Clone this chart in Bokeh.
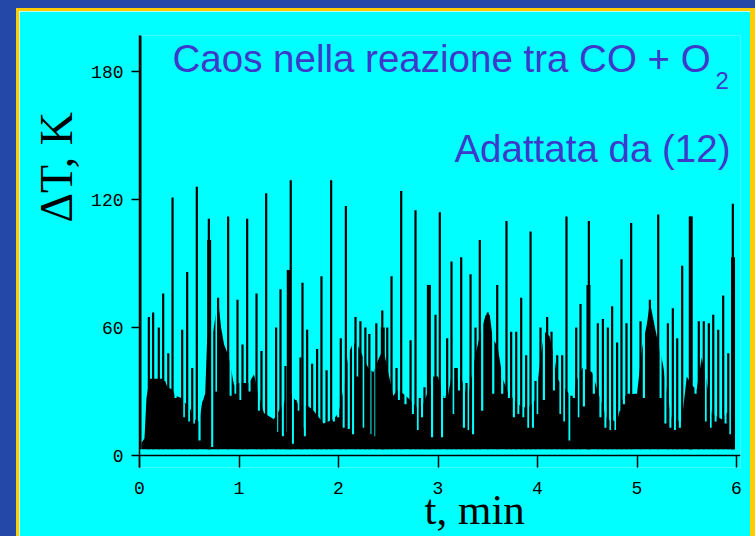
from bokeh.plotting import figure
from bokeh.models import Range1d, FixedTicker, Span, Label, Title, Spacer
from bokeh.layouts import row, column
from bokeh.embed import file_html
from bokeh.resources import INLINE

# ---- data (t in min, delta T in K) ----
env_t = [0.02, 0.05, 0.07, 0.10, 0.25, 0.28, 0.33, 0.36, 0.42, 0.45, 0.50, 0.55, 0.60, 0.63, 0.66,
         0.68, 0.74, 0.79, 0.82, 0.85, 0.90, 0.95, 1.00, 1.10, 1.15, 1.20, 1.25, 1.35, 1.40, 1.45,
         1.50, 1.55, 1.60, 1.70, 1.75, 1.85, 1.95, 2.00, 2.05, 2.10, 2.15, 2.20, 2.25, 2.30, 2.35,
         2.40, 2.45, 2.50, 2.55, 2.60, 2.70, 2.80, 2.85, 2.90, 2.95, 3.00, 3.05, 3.10, 3.15, 3.20,
         3.25, 3.30, 3.37, 3.42, 3.48, 3.52, 3.55, 3.60, 3.65, 3.70, 3.80, 3.90, 3.98, 4.03, 4.07,
         4.12, 4.17, 4.20, 4.30, 4.35, 4.40, 4.45, 4.55, 4.60, 4.70, 4.80, 4.85, 4.90, 5.00, 5.05,
         5.10, 5.13, 5.18, 5.22, 5.26, 5.30, 5.35, 5.45, 5.50, 5.55, 5.60, 5.65, 5.70, 5.75, 5.85,
         5.90, 5.98]
env_v = [6, 8, 27, 36, 36, 32, 31, 28, 27, 25, 23, 17, 16, 25, 29,
         55, 58, 73, 60, 52, 46, 33, 34, 34, 38, 28, 20, 17, 21, 24,
         32, 27, 24, 23, 21, 15, 17, 20, 31, 48, 53, 51, 46, 41, 39,
         45, 50, 39, 28, 31, 27, 22, 24, 30, 37, 37, 28, 28, 41, 41,
         34, 27, 46, 56, 66, 66, 55, 51, 36, 30, 24, 22, 26, 46, 58,
         56, 46, 36, 30, 27, 36, 41, 39, 31, 17, 16, 26, 29, 29, 50,
         62, 72, 60, 51, 43, 30, 17, 16, 37, 33, 31, 46, 35, 20, 17,
         20, 22]
base_v = 3

spike_t = [0.094, 0.137, 0.194, 0.238, 0.289, 0.332, 0.429, 0.479, 0.530, 0.576, 0.697, 0.790,
           0.891, 0.985, 1.035, 1.082, 1.176, 1.226, 1.273, 1.373, 1.417, 1.467, 1.520, 1.568,
           1.618, 1.638, 1.685, 1.735, 1.785, 1.829, 1.880, 1.926, 2.023, 2.074, 2.171, 2.220,
           2.270, 2.310, 2.380, 2.440, 2.490, 2.533, 2.583, 2.630, 2.724, 2.774, 2.817, 2.864,
           2.975, 3.018, 3.092, 3.136, 3.186, 3.233, 3.286, 3.327, 3.377, 3.420, 3.500, 3.595,
           3.688, 3.735, 3.786, 3.836, 3.886, 3.930, 3.980, 4.030, 4.097, 4.141, 4.198, 4.248,
           4.291, 4.342, 4.389, 4.432, 4.516, 4.606, 4.657, 4.707, 4.750, 4.800, 4.844, 4.894,
           4.941, 5.035, 5.129, 5.213, 5.310, 5.360, 5.404, 5.454, 5.538, 5.621, 5.671, 5.722,
           5.766, 5.816, 5.866, 5.917, 5.963]
spike_top = [65, 67, 60, 76, 48, 121, 59, 86, 41, 126, 111, 74,
             112, 73, 52, 111, 76, 49, 123, 60, 78, 42, 129, 26,
             46, 81, 59, 43, 50, 84, 40, 129, 55, 117, 65, 63,
             60, 57, 62, 68, 60, 84, 41, 124, 54, 115, 27, 32,
             66, 114, 55, 91, 36, 93, 34, 85, 60, 101, 67, 80,
             110, 58, 58, 74, 47, 105, 35, 60, 65, 58, 47, 47,
             112, 28, 60, 71, 110, 62, 64, 60, 70, 53, 92, 62,
             109, 63, 73, 113, 62, 69, 55, 89, 112, 63, 63, 62,
             66, 59, 75, 48, 118]

thick_t = [0.000, 0.700, 1.500, 2.445, 2.908, 4.512, 5.540, 5.965]
thick_top = [197, 101, 87, 60, 80, 80, 112, 93]

notch_t = [0.245, 0.362, 0.445, 0.496, 0.546, 0.603, 0.630, 0.730, 0.774, 0.915, 0.965, 1.015,
           1.065, 1.105, 1.199, 1.249, 1.300, 1.343, 1.383, 1.440, 1.484, 1.541, 1.575, 1.601,
           1.641, 1.661, 1.718, 1.802, 1.852, 1.903, 1.953, 1.997, 2.053, 2.103, 2.147, 2.187,
           2.254, 2.320, 2.372, 2.556, 2.606, 2.673, 2.747, 2.797, 2.840, 2.940, 3.040, 3.065,
           3.152, 3.210, 3.260, 3.303, 3.353, 3.444, 3.555, 3.645, 3.712, 3.762, 3.806, 3.856,
           3.906, 3.953, 3.996, 4.064, 4.164, 4.231, 4.265, 4.322, 4.365, 4.415, 4.466, 4.566,
           4.633, 4.683, 4.734, 4.784, 4.827, 4.868, 4.918, 4.968, 5.069, 5.236, 5.286, 5.336,
           5.380, 5.430, 5.487, 5.588, 5.689, 5.739, 5.789, 5.839, 5.889, 5.933]
notch_low = [35, 27, 18, 16, 15, 7, 26, 4, 30, 28, 29, 26,
             35, 30, 21, 23, 24, 21, 11, 9, 11, 5.5, 26, 21,
             13, 9, 27, 35, 28, 23, 16, 18, 13, 12.5, 10, 37,
             13, 10, 9, 30.5, 26, 24, 19.5, 12, 18, 8.6, 8.6, 27,
             19.5, 30.5, 13, 12, 10, 21, 29, 29, 27, 18, 19.5, 18,
             13, 13, 19.5, 26, 30.5, 19.5, 16, 7, 27, 18, 23, 29,
             18, 13, 12, 12, 21, 24, 30.5, 29, 27, 27, 15, 13,
             12, 13, 37, 29, 16, 13, 16, 21, 15, 10]
notch_top = 140

x_ticks = [0, 1, 2, 3, 4, 5, 6]
y_ticks = [0, 60, 120, 180]

CYAN = "#00ffff"
TITLE = "#3d3acb"
BLUE = "#2448a8"
YELLOW = "#ffcc00"

p = figure(width=731, height=525, x_range=Range1d(0, 6.04), y_range=Range1d(-5.6, 196.9),
           output_backend="svg", toolbar_location=None,
           min_border_left=120, min_border_right=10, min_border_top=24, min_border_bottom=69)
p.background_fill_color = CYAN
p.border_fill_color = CYAN
p.outline_line_color = None
p.grid.visible = False

p.varea(x=env_t, y1=base_v, y2=env_v, color="black")
p.segment(x0=notch_t, y0=notch_low, x1=notch_t, y1=notch_top, line_color=CYAN, line_width=2.2)
p.segment(x0=spike_t, y0=base_v, x1=spike_t, y1=spike_top, line_color="black", line_width=2.2)
p.segment(x0=thick_t, y0=base_v, x1=thick_t, y1=thick_top, line_color="black", line_width=4)

p.add_layout(Span(location=0, dimension="width", line_color="black", line_width=1.5))

for ax in (p.xaxis, p.yaxis):
    ax.minor_tick_line_color = None
    ax.major_label_text_font = "Liberation Mono"
    ax.major_label_text_font_size = "18px"
    ax.major_label_text_color = "black"
    ax.major_tick_line_color = "black"
    ax.major_tick_line_width = 1.5

p.yaxis.ticker = FixedTicker(ticks=y_ticks)
p.yaxis.major_tick_out = 8
p.yaxis.major_tick_in = 0
p.yaxis.axis_line_color = "black"
p.yaxis.axis_line_width = 1.5
p.yaxis.major_label_standoff = 8

p.xaxis.ticker = FixedTicker(ticks=x_ticks)
p.xaxis.major_tick_out = 0
p.xaxis.major_tick_in = 12
p.xaxis.axis_line_color = None
p.xaxis.major_label_standoff = 14

p.add_layout(Title(text="ΔT, K", align="left", offset=245, standoff=14,
                   text_font="Liberation Serif", text_font_size="46px",
                   text_font_style="normal", text_color="black"), "left")
p.add_layout(Title(text="t, min", align="left", offset=285, standoff=-26,
                   text_font="Liberation Serif", text_font_size="43px",
                   text_font_style="normal", text_color="black"), "below")

# titles inside the frame (screen units measured from the frame's bottom-left)
p.add_layout(Label(x=33, y=409, x_units="screen", y_units="screen",
                   text="Caos nella reazione tra CO + O", text_align="left",
                   text_baseline="middle", text_font="Liberation Sans",
                   text_font_size="38.5px", text_color=TITLE))
p.add_layout(Label(x=576, y=387, x_units="screen", y_units="screen", text="2",
                   text_align="left", text_baseline="middle", text_font="Liberation Sans",
                   text_font_size="24px", text_color=TITLE))
p.add_layout(Label(x=591, y=319, x_units="screen", y_units="screen", text="Adattata da (12)",
                   text_align="right", text_baseline="middle", text_font="Liberation Sans",
                   text_font_size="38.5px", text_color=TITLE))

blue_left = Spacer(width=16, height=536, styles={"background-color": BLUE})
blue_top = Spacer(width=739, height=8, styles={"background-color": BLUE})
yellow_top = Spacer(width=739, height=3, styles={"background-color": YELLOW})
yellow_left = Spacer(width=3, height=525, styles={"background-color": YELLOW})
yellow_right = Spacer(width=5, height=525, styles={"background-color": YELLOW})
page = row(blue_left, column(blue_top, yellow_top, row(yellow_left, p, yellow_right)))

open("out.html", "w").write(file_html(page, INLINE))
